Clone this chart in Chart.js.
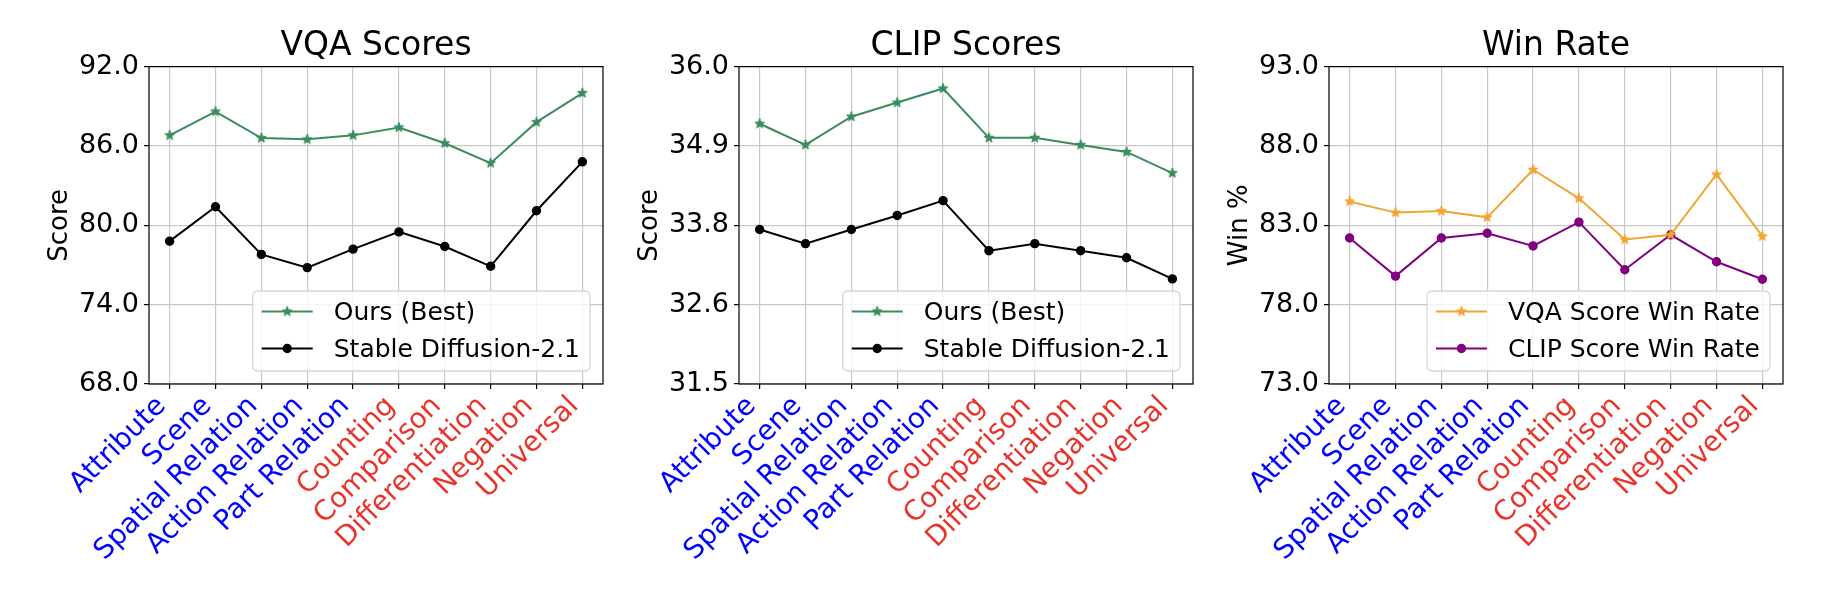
<!DOCTYPE html>
<html>
<head>
<meta charset="utf-8">
<script src="https://cdn.jsdelivr.net/npm/chart.js@4.4.1/dist/chart.umd.min.js"></script>
<style>
  html, body { margin: 0; padding: 0; background: #fff; }
  body { width: 1846px; height: 594px; position: relative; overflow: hidden; }
  canvas { position: absolute; top: 0; }
</style>
</head>
<body>
<canvas id="vqaChart" width="589" height="594" style="left:24px"></canvas>
<canvas id="clipChart" width="589" height="594" style="left:614px"></canvas>
<canvas id="winChart" width="589" height="594" style="left:1204px"></canvas>
<script>
// categories (first five basic skills in blue, last five advanced in red)
const categories = ["Attribute", "Scene", "Spatial Relation", "Action Relation", "Part Relation",
  "Counting", "Comparison", "Differentiation", "Negation", "Universal"];

const vqaOurs = [86.8, 88.6, 86.6, 86.5, 86.8, 87.4, 86.2, 84.7, 87.8, 90.0];
const vqaSD = [78.8, 81.4, 77.8, 76.8, 78.2, 79.5, 78.4, 76.9, 81.1, 84.8];

const clipOurs = [35.19, 34.89, 35.29, 35.49, 35.69, 34.99, 34.99, 34.89, 34.79, 34.49];
const clipSD = [33.69, 33.49, 33.69, 33.89, 34.10, 33.39, 33.49, 33.39, 33.29, 32.99];

const vqaWinRate = [84.5, 83.8, 83.9, 83.5, 86.5, 84.7, 82.1, 82.4, 86.2, 82.3];
const clipWinRate = [82.2, 79.8, 82.2, 82.5, 81.7, 83.2, 80.2, 82.4, 80.7, 79.6];

// y tick values and their printed labels
const vqaTicks = [68, 74, 80, 86, 92];
const vqaTickLabels = ["68.0", "74.0", "80.0", "86.0", "92.0"];
const clipTicks = [31.5, 32.625, 33.75, 34.875, 36.0];
const clipTickLabels = ["31.5", "32.6", "33.8", "34.9", "36.0"];
const winTicks = [73, 78, 83, 88, 93];
const winTickLabels = ["73.0", "78.0", "83.0", "88.0", "93.0"];

Chart.defaults.font.family = "'DejaVu Sans', sans-serif";
Chart.defaults.color = "#000";

const GREEN = "#3a8c5c";
const ORANGE = "#f2a533";
const PURPLE = "#800080";

// filled five point star, used as point style
function makeStar(color) {
  const c = document.createElement("canvas");
  c.width = 16;
  c.height = 16;
  const g = c.getContext("2d");
  g.beginPath();
  for (let i = 0; i < 10; i++) {
    const r = i % 2 === 0 ? 5.2 : 2.1;
    const a = -Math.PI / 2 + (i * Math.PI) / 5;
    const px = 8 + r * Math.cos(a);
    const py = 8 + r * Math.sin(a);
    if (i === 0) g.moveTo(px, py);
    else g.lineTo(px, py);
  }
  g.closePath();
  g.fillStyle = color;
  g.fill();
  g.strokeStyle = color;
  g.lineWidth = 1;
  g.stroke();
  return c;
}

// frame around the plot + legend box in the lower right corner
const frameAndLegend = {
  id: "frameAndLegend",
  afterDraw(chart) {
    const ctx = chart.ctx;
    const area = chart.chartArea;
    ctx.save();
    ctx.strokeStyle = "#000";
    ctx.lineWidth = 1.2;
    ctx.strokeRect(area.left, area.top, area.right - area.left, area.bottom - area.top);

    const sets = chart.data.datasets;
    ctx.font = "25px 'DejaVu Sans'";
    let textW = 0;
    sets.forEach(function (ds) {
      textW = Math.max(textW, ctx.measureText(ds.label).width);
    });
    const w = 10 + 50 + 21 + textW + 10;
    const h = 80;
    const x = area.right - 13 - w;
    const y = area.bottom - 13 - h;

    ctx.beginPath();
    if (ctx.roundRect) ctx.roundRect(x, y, w, h, 5);
    else ctx.rect(x, y, w, h);
    ctx.fillStyle = "rgba(255,255,255,0.8)";
    ctx.fill();
    ctx.strokeStyle = "#d6d6d6";
    ctx.lineWidth = 1.3;
    ctx.stroke();

    sets.forEach(function (ds, i) {
      const cy = y + 20.5 + i * 37;
      ctx.strokeStyle = ds.borderColor;
      ctx.lineWidth = 2;
      ctx.beginPath();
      ctx.moveTo(x + 9, cy);
      ctx.lineTo(x + 60, cy);
      ctx.stroke();
      if (ds.pointStyle instanceof HTMLCanvasElement) {
        ctx.drawImage(ds.pointStyle, x + 34.5 - 8, cy - 8);
      } else {
        ctx.beginPath();
        ctx.arc(x + 34.5, cy, ds.pointRadius, 0, Math.PI * 2);
        ctx.fillStyle = ds.borderColor;
        ctx.fill();
        ctx.lineWidth = ds.pointBorderWidth;
        ctx.stroke();
      }
      ctx.fillStyle = "#000";
      ctx.textBaseline = "alphabetic";
      ctx.textAlign = "left";
      ctx.fillText(ds.label, x + 81, cy + 8.5);
    });
    ctx.restore();
  },
};

function toPoints(values) {
  return values.map(function (v, i) {
    return { x: i, y: v };
  });
}

function starSeries(label, values, color) {
  return {
    label: label,
    data: toPoints(values),
    borderColor: color,
    backgroundColor: color,
    borderWidth: 2,
    pointStyle: makeStar(color),
    pointRadius: 5,
  };
}

function dotSeries(label, values, color) {
  return {
    label: label,
    data: toPoints(values),
    borderColor: color,
    backgroundColor: color,
    borderWidth: 2,
    pointStyle: "circle",
    pointRadius: 4,
    pointBorderWidth: 1.4,
  };
}

function drawPanel(id, title, yTitle, ticks, tickLabels, datasets) {
  const ctx = document.getElementById(id).getContext("2d");
  new Chart(ctx, {
    type: "line",
    data: { datasets: datasets },
    plugins: [frameAndLegend],
    options: {
      responsive: false,
      animation: false,
      layout: { padding: { top: 27, left: 0, right: 10, bottom: 0 } },
      plugins: {
        legend: { display: false },
        tooltip: { enabled: false },
        title: {
          display: true,
          fullSize: false, // centre over the plot area, not the canvas
          text: title,
          color: "#000",
          font: { size: 33, weight: "normal", lineHeight: 1.2 },
          padding: 0,
        },
      },
      scales: {
        x: {
          type: "linear",
          min: -0.45,
          max: 9.45,
          afterBuildTicks: function (scale) {
            scale.ticks = categories.map(function (c, i) {
              return { value: i };
            });
          },
          afterFit: function (scale) {
            scale.height = 210;
          },
          ticks: {
            autoSkip: false,
            minRotation: 45,
            maxRotation: 45,
            padding: 1,
            labelOffset: -8,
            font: { size: 27.8 },
            color: function (c) {
              return c.index < 5 ? "#0000ff" : "#e8352b";
            },
            callback: function (value) {
              return categories[value];
            },
          },
          grid: { color: "#c8c8c8", lineWidth: 1.2, tickColor: "#000", tickLength: 5, tickWidth: 1.2 },
          border: { display: false },
        },
        y: {
          type: "linear",
          min: ticks[0],
          max: ticks[ticks.length - 1],
          afterBuildTicks: function (scale) {
            scale.ticks = ticks.map(function (v) {
              return { value: v };
            });
          },
          afterFit: function (scale) {
            scale.width = 125;
          },
          ticks: {
            padding: 5,
            font: { size: 27 },
            callback: function (value, index) {
              return tickLabels[index];
            },
          },
          title: {
            display: true,
            text: yTitle,
            color: "#000",
            font: { size: 26 },
            padding: { top: 21, bottom: 0 },
          },
          grid: { color: "#c8c8c8", lineWidth: 1.2, tickColor: "#000", tickLength: 5, tickWidth: 1.2 },
          border: { display: false },
        },
      },
    },
  });
}

drawPanel("vqaChart", "VQA Scores", "Score", vqaTicks, vqaTickLabels, [
  starSeries("Ours (Best)", vqaOurs, GREEN),
  dotSeries("Stable Diffusion-2.1", vqaSD, "#000"),
]);

drawPanel("clipChart", "CLIP Scores", "Score", clipTicks, clipTickLabels, [
  starSeries("Ours (Best)", clipOurs, GREEN),
  dotSeries("Stable Diffusion-2.1", clipSD, "#000"),
]);

drawPanel("winChart", "Win Rate", "Win %", winTicks, winTickLabels, [
  starSeries("VQA Score Win Rate", vqaWinRate, ORANGE),
  dotSeries("CLIP Score Win Rate", clipWinRate, PURPLE),
]);
</script>
</body>
</html>
